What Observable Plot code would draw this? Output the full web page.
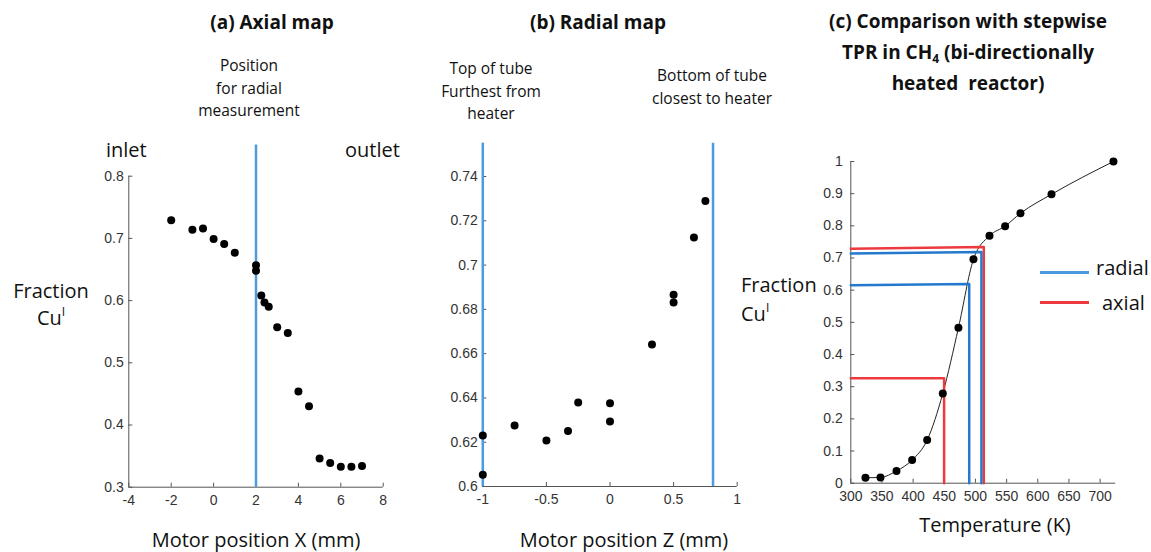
<!DOCTYPE html>
<html>
<head>
<meta charset="utf-8">
<script src="https://cdn.jsdelivr.net/npm/d3@7"></script>
<script src="https://cdn.jsdelivr.net/npm/@observablehq/plot@0.6"></script>
<style>
  html, body { margin: 0; padding: 0; background: #fff; }
  #wrap { position: relative; width: 1151px; height: 552px; overflow: hidden; font-family: "Open Sans", sans-serif; color: #111; }
  .abs { position: absolute; white-space: nowrap; }
  .title { font-weight: 700; font-size: 19px; text-align: center; line-height: 31px; }
  .note { font-size: 15.5px; text-align: center; line-height: 22.5px; }
  .lab { font-size: 20px; line-height: 27px; }
  .panel { position: absolute; }
  .panel svg { background: transparent !important; overflow: visible; }
  sup.s { font-size: 12px; vertical-align: 9px; line-height: 0; }
  sub.s { font-size: 12px; vertical-align: -4px; line-height: 0; }
</style>
</head>
<body>
<div id="wrap">
  <div class="abs title" style="left:172px; width:200px; top:7px;">(a) Axial map</div>
  <div class="abs title" style="left:498px; width:200px; top:7px;">(b) Radial map</div>
  <div class="abs title" style="left:808px; width:320px; top:6px;">(c) Comparison with stepwise<br>TPR in CH<sub class="s">4</sub> (bi-directionally<br>heated&nbsp; reactor)</div>

  <div class="abs note" style="left:169px; width:160px; top:54px;">Position<br>for radial<br>measurement</div>
  <div class="abs note" style="left:411px; width:160px; top:57px;">Top of tube<br>Furthest from<br>heater</div>
  <div class="abs note" style="left:632px; width:160px; top:64px;">Bottom of tube<br>closest to heater</div>

  <div class="abs lab" style="left:106px; top:136px;">inlet</div>
  <div class="abs lab" style="left:345px; top:136px;">outlet</div>

  <div class="abs lab" style="left:0px; width:102px; text-align:center; top:277px;">Fraction<br>Cu<sup class="s">I</sup></div>
  <div class="abs lab" style="left:741px; top:270px; line-height:29px;">Fraction<br>Cu<sup class="s">I</sup></div>

  <div class="abs lab" style="left:136px; width:240px; text-align:center; top:526px;">Motor position X (mm)</div>
  <div class="abs lab" style="left:504px; width:240px; text-align:center; top:526px;">Motor position Z (mm)</div>
  <div class="abs lab" style="left:895px; width:200px; text-align:center; top:511px;">Temperature (K)</div>

  <div id="pa" class="panel" style="left:0px; top:130px;"></div>
  <div id="pb" class="panel" style="left:440px; top:130px;"></div>
  <div id="pc" class="panel" style="left:780px; top:140px;"></div>

  <div class="abs" style="left:1040px; top:271px; width:49px; height:3px; background:#4a9be0;"></div>
  <div class="abs lab" style="left:1096px; top:254px;">radial</div>
  <div class="abs" style="left:1040px; top:301px; width:49px; height:3px; background:#ec3a3f;"></div>
  <div class="abs lab" style="left:1102px; top:289px;">axial</div>
</div>
<script>
// ---------- data ----------
// (a) axial map
const axialX = [-2, -1, -0.5, 0, 0.5, 1, 2, 2, 2.25, 2.4, 2.6, 3, 3.5, 4, 4.5, 5, 5.5, 6, 6.5, 7];
const axialFrac = [0.729, 0.714, 0.716, 0.699, 0.691, 0.677, 0.657, 0.648, 0.608, 0.597, 0.590, 0.557, 0.548, 0.454, 0.430, 0.346, 0.339, 0.333, 0.333, 0.334];
const axialMarker = [2];
const axialXTicks = [-4, -2, 0, 2, 4, 6, 8];
const axialYTicks = [0.3, 0.4, 0.5, 0.6, 0.7, 0.8];

// (b) radial map
const radialZ = [-1, -1, -0.75, -0.5, -0.33, -0.25, 0, 0, 0.33, 0.5, 0.5, 0.66, 0.75];
const radialFrac = [0.6053, 0.623, 0.6275, 0.6208, 0.6251, 0.6379, 0.6376, 0.6294, 0.6641, 0.6866, 0.6831, 0.7124, 0.7289];
const radialMarkers = [-1, 0.81];
const radialXTicks = [-1, -0.5, 0, 0.5, 1];
const radialYTicks = [0.6, 0.62, 0.64, 0.66, 0.68, 0.7, 0.72, 0.74];

// (c) stepwise TPR
const tprT = [323.5, 347.6, 373.3, 398.4, 422.5, 447.6, 472.7, 496.8, 522.5, 547.6, 572.2, 622, 721.4];
const tprFrac = [0.017, 0.018, 0.038, 0.072, 0.134, 0.279, 0.483, 0.696, 0.769, 0.799, 0.839, 0.898, 1.0];
const radialGuideA_T = [300, 509.6, 509.6];
const radialGuideA_F = [0.714, 0.719, 0];
const radialGuideB_T = [300, 490, 490];
const radialGuideB_F = [0.615, 0.619, 0];
const axialGuideA_T = [300, 513.4, 513.4];
const axialGuideA_F = [0.7285, 0.7345, 0];
const axialGuideB_T = [300, 449.7, 449.7];
const axialGuideB_F = [0.326, 0.326, 0];
const tprXTicks = [300, 350, 400, 450, 500, 550, 600, 650, 700];
const tprYTicks = [0, 0.1, 0.2, 0.3, 0.4, 0.5, 0.6, 0.7, 0.8, 0.9, 1];

// ---------- helpers ----------
const zip = (xs, ys) => xs.map((x, i) => ({x, y: ys[i]}));
const fmt = d => String(+d.toFixed(3));
const AX = "#555";
const TXT = "#333";
const BLUE_L = "#4a9be0";
const BLUE_D = "#2579cc";
const RED = "#ec3a3f";
const style = {background: "transparent", fontFamily: "'Liberation Sans', Arial, sans-serif", fontSize: "14px", color: TXT, overflow: "visible"};

function axes(xTicks, yTicks, xPad, yPad, x0, y0, yTop) {
  return [
    Plot.ruleY([y0], {stroke: AX, strokeWidth: 1}),
    Plot.ruleX([x0], {y1: y0, y2: yTop, stroke: AX, strokeWidth: 1}),
    Plot.axisX(xTicks, {tickSize: -4, tickPadding: xPad, tickFormat: fmt, stroke: AX, fill: TXT, label: null, fontSize: 14}),
    Plot.axisY(yTicks, {tickSize: -4, tickPadding: yPad, tickFormat: fmt, stroke: AX, fill: TXT, label: null, fontSize: 14})
  ];
}

// ---------- (a) ----------
const pa = Plot.plot({
  width: 420, height: 380,
  marginLeft: 128.3, marginRight: 37.3, marginTop: 14.6, marginBottom: 23.3,
  x: {domain: [-4, 8]},
  y: {domain: [0.3, 0.85]},
  style,
  marks: [
    ...axes(axialXTicks, axialYTicks, 12, 9, -4, 0.3, 0.8),
    Plot.ruleX(axialMarker, {y1: 0.3, y2: 0.85, stroke: BLUE_L, strokeWidth: 2.5}),
    Plot.dot(zip(axialX, axialFrac), {x: "x", y: "y", r: 4, fill: "#000", stroke: null})
  ]
});
document.getElementById("pa").appendChild(pa);

// ---------- (b) ----------
const pb = Plot.plot({
  width: 320, height: 380,
  marginLeft: 42.3, marginRight: 23.3, marginTop: 12.8, marginBottom: 24,
  x: {domain: [-1, 1]},
  y: {domain: [0.6, 0.755]},
  style,
  marks: [
    ...axes(radialXTicks, radialYTicks, 12, 9, -1, 0.6, 0.755),
    Plot.ruleX(radialMarkers, {y1: 0.6, y2: 0.755, stroke: BLUE_L, strokeWidth: 2.5}),
    Plot.dot(zip(radialZ, radialFrac), {x: "x", y: "y", r: 4, fill: "#000", stroke: null})
  ]
});
document.getElementById("pb").appendChild(pb);

// ---------- (c) ----------
const pc = Plot.plot({
  width: 371, height: 370,
  marginLeft: 70.3, marginRight: 35.8, marginTop: 21, marginBottom: 27.3,
  x: {domain: [300, 725]},
  y: {domain: [0, 1]},
  style,
  marks: [
    ...axes(tprXTicks, tprYTicks, 12, 12, 300, 0, 1),
    Plot.line(zip(tprT, tprFrac), {x: "x", y: "y", curve: "monotone-x", stroke: "#222", strokeWidth: 1}),
    Plot.line(zip(axialGuideA_T, axialGuideA_F), {x: "x", y: "y", stroke: RED, strokeWidth: 2.5}),
    Plot.line(zip(axialGuideB_T, axialGuideB_F), {x: "x", y: "y", stroke: RED, strokeWidth: 2.5}),
    Plot.line(zip(radialGuideA_T, radialGuideA_F), {x: "x", y: "y", stroke: BLUE_D, strokeWidth: 2.5}),
    Plot.line(zip(radialGuideB_T, radialGuideB_F), {x: "x", y: "y", stroke: BLUE_D, strokeWidth: 2.5}),
    Plot.dot(zip(tprT, tprFrac), {x: "x", y: "y", r: 4, fill: "#000", stroke: null})
  ]
});
document.getElementById("pc").appendChild(pc);
</script>
</body>
</html>
